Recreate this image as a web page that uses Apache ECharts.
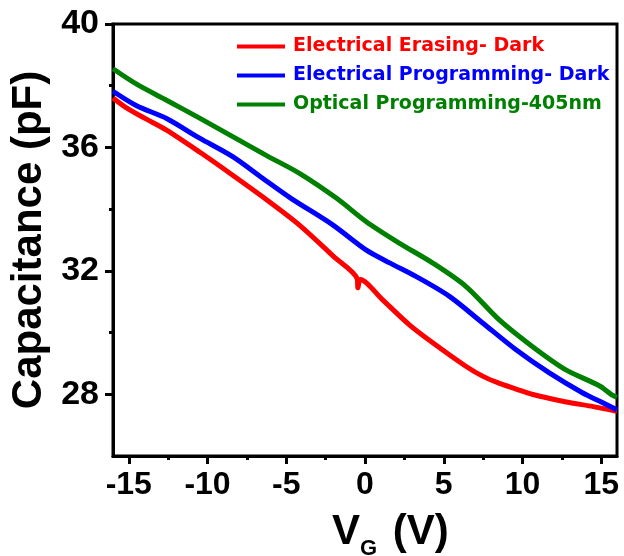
<!DOCTYPE html>
<html>
<head>
<meta charset="utf-8">
<script src="https://cdn.jsdelivr.net/npm/echarts@6/dist/echarts.min.js"></script>
<style>
html,body{margin:0;padding:0;background:#fff;}
#c{width:624px;height:556px;}
</style>
</head>
<body>
<div id="c"></div>
<script>
// Data (V_G in V, capacitance in pF)
const erasingDark = [
  [-16, 37.6], [-15.2, 37.3], [-14, 36.95], [-12.6, 36.56], [-10.5, 35.85], [-8.4, 35.1],
  [-6.5, 34.4], [-4.2, 33.5], [-2.0, 32.47], [-0.5, 31.75], [-0.45, 31.45], [-0.3, 31.72],
  [1.1, 31.07], [2.8, 30.26], [4.3, 29.67], [6.4, 28.91], [7.5, 28.58], [8.5, 28.36], [9.6, 28.17],
  [10.6, 28.0], [12.7, 27.76], [14.5, 27.6], [15.7, 27.48], [16, 27.45]
];
const programmingDark = [
  [-16, 37.82], [-14.5, 37.35], [-12.6, 36.94], [-10.5, 36.3], [-8.4, 35.7], [-6.5, 35.0],
  [-4.7, 34.35], [-2.05, 33.49], [0.06, 32.68], [1.6, 32.25], [3.23, 31.82], [5.34, 31.18],
  [7.45, 30.32], [9.57, 29.45], [11.68, 28.7], [13.8, 28.05], [15.0, 27.75], [15.7, 27.57], [16, 27.5]
];
const opticalProgramming = [
  [-16, 38.55], [-14.5, 38.05], [-12.6, 37.53], [-10.5, 36.95], [-8.4, 36.35], [-6.3, 35.75],
  [-4.16, 35.16], [-1.8, 34.35], [0.06, 33.6], [2.17, 32.9], [4.28, 32.26], [6.4, 31.5],
  [8.51, 30.42], [10.6, 29.56], [12.7, 28.81], [14.9, 28.27], [15.7, 27.97], [16, 27.9]
];
const seriesNames = ['Electrical Erasing- Dark', 'Electrical Programming- Dark', 'Optical Programming-405nm'];
const seriesColors = ['#ff0000', '#0000ff', '#008000'];
const xMajorTicks = [-15, -10, -5, 0, 5, 10, 15];
const xMinorTicks = [-12.5, -7.5, -2.5, 2.5, 7.5, 12.5];
const yMajorTicks = [28, 32, 36, 40];
const yMinorTicks = [30, 34, 38];

const FONT = '"Liberation Sans", Arial, sans-serif';
const chart = echarts.init(document.getElementById('c'), null, {renderer: 'canvas'});
const datasets = [erasingDark, programmingDark, opticalProgramming];

chart.setOption({
  animation: false,
  backgroundColor: '#fff',
  grid: {left: 113, right: 7, top: 24, bottom: 100, show: true, borderColor: '#000', borderWidth: 3},
  legend: {
    left: 237, top: 37, padding: 0, orient: 'vertical', icon: 'rect',
    itemWidth: 48, itemHeight: 4, itemGap: 10,
    textStyle: {fontFamily: '"DejaVu Sans", sans-serif', fontWeight: 'bold', fontSize: 19, lineHeight: 18, padding: [0, 0, 0, 3]},
    data: seriesNames.map((n, i) => ({name: n, textStyle: {color: seriesColors[i]}}))
  },
  xAxis: [{
    type: 'value', min: -16, max: 16,
    axisLine: {onZero: false, lineStyle: {color: '#000', width: 3}},
    axisTick: {show: true, inside: false, length: 8, lineStyle: {width: 3, color: '#000'}, customValues: xMajorTicks},
    axisLabel: {customValues: xMajorTicks, fontFamily: FONT, fontWeight: 'bold', fontSize: 32, color: '#000', margin: 13},
    splitLine: {show: false}
  }, {
    type: 'value', min: -16, max: 16, position: 'bottom',
    axisLine: {show: false, onZero: false},
    axisTick: {show: true, length: 4, lineStyle: {width: 3, color: '#000'}, customValues: xMinorTicks},
    axisLabel: {show: false},
    splitLine: {show: false}
  }],
  yAxis: [{
    type: 'value', min: 26, max: 40,
    name: 'Capacitance (pF)', nameLocation: 'middle', nameGap: 58,
    nameTextStyle: {fontFamily: FONT, fontWeight: 'bold', fontSize: 42, color: '#000'},
    axisLine: {onZero: false, lineStyle: {color: '#000', width: 3}},
    axisTick: {show: true, length: 8, lineStyle: {width: 3, color: '#000'}, customValues: yMajorTicks},
    axisLabel: {customValues: yMajorTicks, fontFamily: FONT, fontWeight: 'bold', fontSize: 34, color: '#000', margin: 14},
    splitLine: {show: false}
  }, {
    type: 'value', min: 26, max: 40, position: 'left',
    axisLine: {show: false, onZero: false},
    axisTick: {show: true, length: 4, lineStyle: {width: 3, color: '#000'}, customValues: yMinorTicks},
    axisLabel: {show: false},
    splitLine: {show: false}
  }],
  graphic: [
    {type: 'text', left: 332, top: 511, style: {text: 'V', font: 'bold 42px ' + FONT, fill: '#000'}},
    {type: 'text', left: 360, top: 538, style: {text: 'G', font: 'bold 22px ' + FONT, fill: '#000'}},
    {type: 'text', left: 381, top: 511, style: {text: ' (V)', font: 'bold 42px ' + FONT, fill: '#000'}}
  ],
  series: datasets.map((d, i) => ({
    name: seriesNames[i], type: 'line', data: d, xAxisIndex: 0, yAxisIndex: 0,
    showSymbol: false, symbol: 'none', smooth: 0.3,
    lineStyle: {color: seriesColors[i], width: 5},
    itemStyle: {color: seriesColors[i]}
  }))
});
</script>
</body>
</html>
